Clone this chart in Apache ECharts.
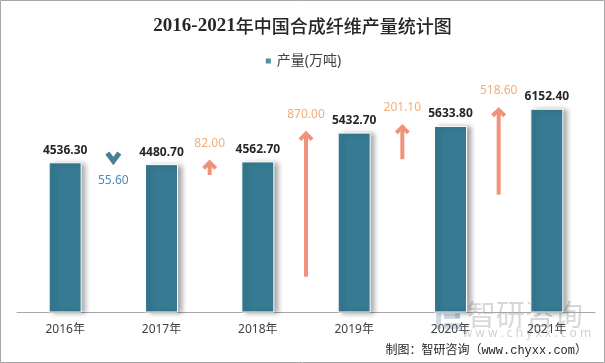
<!DOCTYPE html>
<html><head><meta charset="utf-8">
<script src="https://cdn.jsdelivr.net/npm/echarts@6/dist/echarts.min.js"></script>
<style>html,body{margin:0;padding:0;background:#fff}#c{width:605px;height:363px}</style>
</head><body><div id="c"></div>
<script>
const categories = ['2016年','2017年','2018年','2019年','2020年','2021年'];
const output = [4536.3, 4480.7, 4562.7, 5432.7, 5633.8, 6152.4];
const changes = [null, -55.6, 82.0, 870.0, 201.1, 518.6];
const seriesName = '产量(万吨)';
const titleYears = '2016-2021';
const titleRest = '年中国合成纤维产量统计图';
const footerText = '制图：智研咨询（www.chyxx.com）';

const arrowData = [];
for (let i = 0; i < categories.length; i++) {
  if (changes[i] != null) arrowData.push([i, output[i], changes[i]]);
}
const SANS = '"Noto Sans","Noto Sans CJK SC",sans-serif';
const ARROW_SCALE = 5;

const chart = echarts.init(document.getElementById('c'), null, {renderer: 'canvas'});
chart.setOption({
  animation: false,
  backgroundColor: '#fff',
  title: {
    text: '{a|' + titleYears + '}{b|' + titleRest + '}', left: 'center', top: 12,
    textStyle: {
      fontSize: 18, color: '#262626',
      rich: {
        a: {fontSize: 19, fontWeight: 'bold', color: '#262626', fontFamily: '"Liberation Serif",serif'},
        b: {fontSize: 18, fontWeight: 500, color: '#262626', fontFamily: '"Noto Sans CJK SC",sans-serif'}
      }
    }
  },
  legend: {
    top: 49, left: 'center', icon: 'rect', itemWidth: 7, itemHeight: 7, itemGap: 6,
    textStyle: {fontSize: 14, color: '#404040', fontFamily: SANS},
    data: [{name: seriesName, itemStyle: {color: '#4a90a6'}}]
  },
  grid: {left: 17, right: 10, top: 80.7, bottom: 50.5},
  xAxis: {
    type: 'category', data: categories,
    axisLine: {lineStyle: {color: '#a6a6a6', width: 1}},
    axisTick: {length: 5, lineStyle: {color: '#a6a6a6'}},
    axisLabel: {fontSize: 12, color: '#404040', margin: 11, fontFamily: SANS}
  },
  yAxis: {type: 'value', min: 0, max: 7000, show: false, splitLine: {show: false}},
  series: [
    {
      name: seriesName, type: 'bar', data: output, barWidth: 33,
      itemStyle: {color: '#367b93', borderColor: '#ffffff', borderWidth: 1,
        shadowColor: 'rgba(0,0,0,0.35)', shadowBlur: 5, shadowOffsetX: 4, shadowOffsetY: 1},
      label: {show: true, position: 'top', distance: 6, fontSize: 12, fontWeight: 'bold', color: '#262626',
        fontFamily: SANS, formatter: p => p.value.toFixed(2)}
    },
    {
      type: 'custom', name: 'change', data: arrowData, z: 5,
      renderItem: function (params, api) {
        const i = api.value(0), v = api.value(1), c = api.value(2);
        const band = api.size([1, 0])[0];
        const p = api.coord([i, v]);
        const x = p[0] - band / 2;
        const children = [];
        if (c >= 0) {
          const top = p[1];
          const bot = api.coord([i, v - ARROW_SCALE * c])[1];
          children.push({type: 'line', shape: {x1: x, y1: top + 1, x2: x, y2: bot},
            style: {stroke: '#f0917a', lineWidth: 4}});
          children.push({type: 'polyline', shape: {points: [[x - 6, top + 7], [x, top + 1], [x + 6, top + 7]]},
            style: {stroke: '#f0917a', lineWidth: 4, fill: null, lineJoin: 'miter'}});
          children.push({type: 'text', style: {text: c.toFixed(2), x: x, y: top - 18, align: 'center', verticalAlign: 'middle',
            fill: '#f4ac78', fontSize: 12, fontFamily: SANS}});
        } else {
          const bot = p[1];
          children.push({type: 'polyline', shape: {points: [[x - 6, bot - 11], [x, bot - 3], [x + 6, bot - 11]]},
            style: {stroke: '#4b7f98', lineWidth: 5, fill: null, lineJoin: 'miter'}});
          children.push({type: 'text', style: {text: Math.abs(c).toFixed(2), x: x, y: bot + 16, align: 'center', verticalAlign: 'middle',
            fill: '#4f8ab5', fontSize: 12, fontFamily: SANS}});
        }
        return {type: 'group', children: children};
      }
    }
  ],
  graphic: [
    {type: 'rect', shape: {x: 0.5, y: 0.5, width: 604, height: 362}, style: {fill: null, stroke: '#a6a6a6', lineWidth: 1}, z: 100},
    {type: 'group', z: 90, children: [
      {type: 'rect', shape: {x: 436, y: 304, width: 24, height: 5}, style: {fill: 'rgba(120,150,190,0.35)'}},
      {type: 'rect', shape: {x: 436, y: 304, width: 5, height: 25}, style: {fill: 'rgba(120,150,190,0.35)'}},
      {type: 'rect', shape: {x: 455, y: 304, width: 5, height: 14}, style: {fill: 'rgba(120,150,190,0.35)'}},
      {type: 'rect', shape: {x: 444, y: 314, width: 16, height: 5}, style: {fill: 'rgba(120,150,190,0.35)'}},
      {type: 'rect', shape: {x: 444, y: 323, width: 16, height: 6}, style: {fill: 'rgba(120,150,190,0.35)'}},
      {type: 'text', style: {text: '智研咨询', x: 467, y: 315, verticalAlign: 'middle', fontSize: 29,
        fontFamily: '"Noto Sans CJK SC",sans-serif', fill: 'rgba(140,140,140,0.35)'}},
      {type: 'text', style: {text: 'w w w . c h y x x . c o m', x: 527, y: 334, align: 'center', verticalAlign: 'middle', fontSize: 12,
        fontFamily: SANS, fill: 'rgba(140,140,140,0.4)'}}
    ]},
    {type: 'text', z: 95, style: {text: footerText, x: 587, y: 351, align: 'right', verticalAlign: 'middle', fontSize: 12,
      fontFamily: '"Liberation Mono","Noto Sans CJK SC",monospace', fill: '#262626'}}
  ]
});
</script></body></html>
